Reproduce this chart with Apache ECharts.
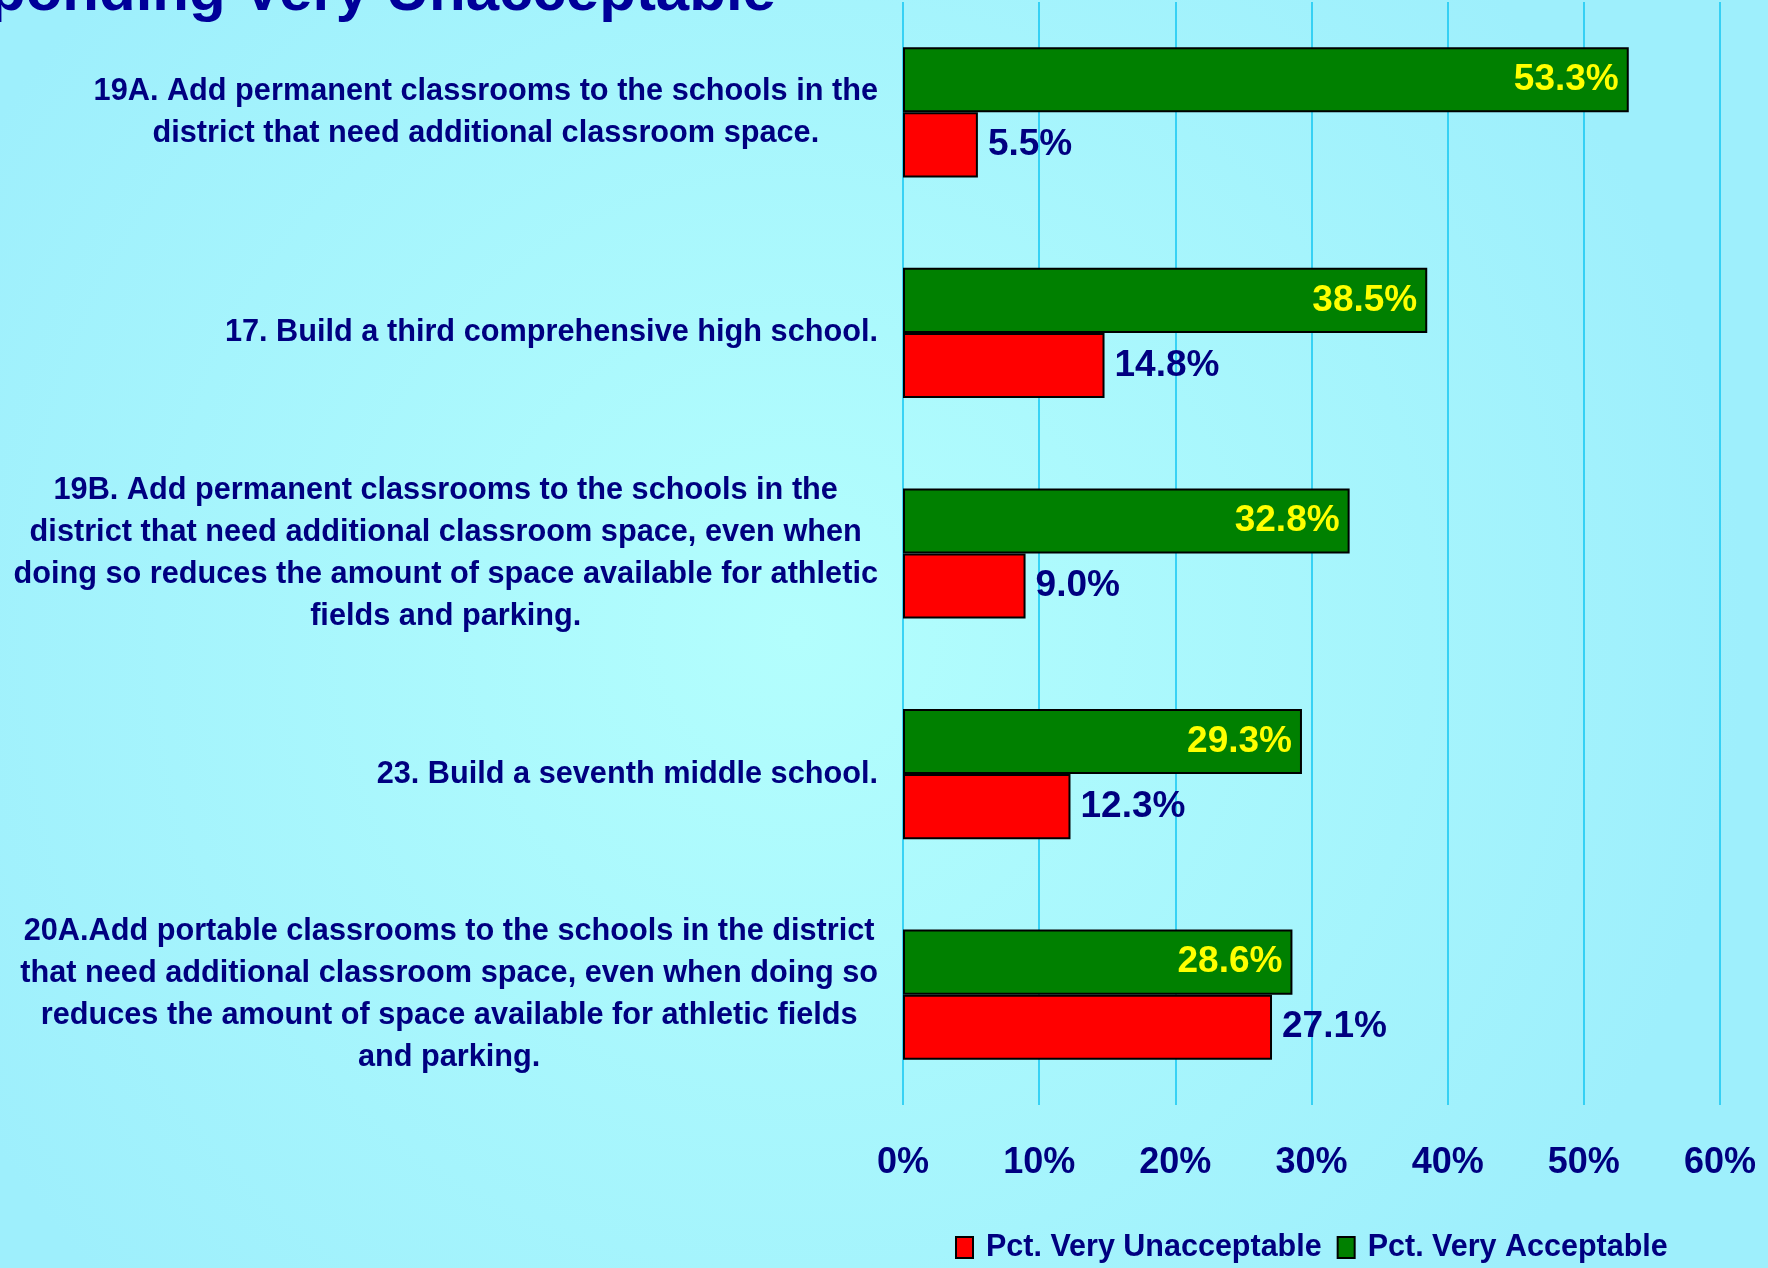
<!DOCTYPE html>
<html>
<head>
<meta charset="utf-8">
<title>Very Acceptable / Very Unacceptable</title>
<script src="https://cdn.jsdelivr.net/npm/echarts@6/dist/echarts.min.js"></script>
<style>
  html, body { margin: 0; padding: 0; }
  #chart { width: 1768px; height: 1268px; }
</style>
</head>
<body>
<div id="chart"></div>
<script>
// questions, top to bottom
const categories = [
  '19A. Add permanent classrooms to the schools in the\ndistrict that need additional classroom space.',
  '17. Build a third comprehensive high school.',
  '19B. Add permanent classrooms to the schools in the\ndistrict that need additional classroom space, even when\ndoing so reduces the amount of space available for athletic\nfields and parking.',
  '23. Build a seventh middle school.',
  '20A.Add portable classrooms to the schools in the district\nthat need additional classroom space, even when doing so\nreduces the amount of space available for athletic fields\nand parking.'
]
const veryUnacceptable = [5.5, 14.8, 9.0, 12.3, 27.1]
const veryAcceptable = [53.3, 38.5, 32.8, 29.3, 28.6]
const seriesNames = ['Pct. Very Unacceptable', 'Pct. Very Acceptable']

const FONT = '"Liberation Sans", Arial, sans-serif'
const NAVY = '#000080'

const chart = echarts.init(document.getElementById('chart'))
chart.setOption({
  backgroundColor: {
    type: 'radial', x: 0.45, y: 0.5, r: 0.75,
    colorStops: [
      { offset: 0, color: '#b3fefd' },
      { offset: 1, color: '#9eeffc' }
    ]
  },
  // title is cut off by the top edge in the original
  graphic: [{
    type: 'text',
    left: -121,
    top: -37,
    style: {
      text: 'Responding Very Unacceptable',
      font: 'bold 60px ' + FONT,
      fill: '#000099'
    }
  }],
  legend: {
    data: seriesNames,
    icon: 'rect',
    left: 950,
    top: 1227,
    itemWidth: 17,
    itemHeight: 21,
    itemGap: 15,
    itemStyle: { borderColor: '#000', borderWidth: 2 },
    textStyle: { color: NAVY, fontFamily: FONT, fontWeight: 'bold', fontSize: 30.5, padding: [0, 0, 0, 8] }
  },
  grid: { left: 903, right: 48, top: 2, bottom: 163 },
  xAxis: {
    type: 'value',
    min: 0,
    max: 60,
    interval: 10,
    axisLine: { show: false },
    axisTick: { show: false },
    axisLabel: {
      formatter: '{value}%',
      margin: 40,
      color: NAVY,
      fontFamily: FONT,
      fontWeight: 'bold',
      fontSize: 36
    },
    splitLine: { lineStyle: { color: '#12c6f2', width: 1.5 } }
  },
  yAxis: {
    type: 'category',
    inverse: true,
    data: categories,
    axisLine: { show: false },
    axisTick: { show: false },
    axisLabel: {
      margin: 25,
      formatter: v => '{c|' + v + '}',
      rich: {
        c: {
          align: 'center',
          color: NAVY,
          fontFamily: FONT,
          fontWeight: 'bold',
          fontSize: 30.7,
          lineHeight: 42
        }
      }
    }
  },
  series: [
    {
      name: seriesNames[1],
      type: 'bar',
      data: veryAcceptable,
      barCategoryGap: '41%',
      barGap: '0%',
      itemStyle: { color: '#008000', borderColor: '#000', borderWidth: 2 },
      label: {
        show: true,
        position: 'insideRight',
        distance: 10,
        formatter: p => p.value.toFixed(1) + '%',
        color: '#ffff00',
        fontFamily: FONT,
        fontWeight: 'bold',
        fontSize: 37
      }
    },
    {
      name: seriesNames[0],
      type: 'bar',
      data: veryUnacceptable,
      barCategoryGap: '41%',
      barGap: '0%',
      itemStyle: { color: '#ff0000', borderColor: '#000', borderWidth: 2 },
      label: {
        show: true,
        position: 'right',
        distance: 10,
        formatter: p => p.value.toFixed(1) + '%',
        color: NAVY,
        fontFamily: FONT,
        fontWeight: 'bold',
        fontSize: 37
      }
    }
  ]
})
</script>
</body>
</html>
